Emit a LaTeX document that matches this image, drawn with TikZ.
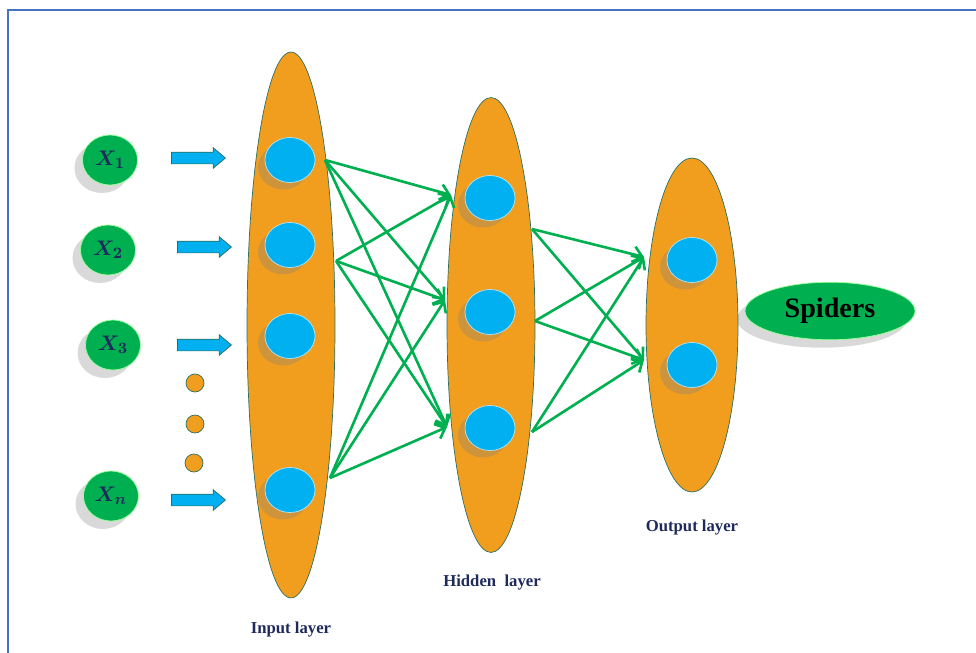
\documentclass[tikz,border=0pt]{standalone}
\usepackage{fontspec}
\setmainfont{Liberation Serif}
\usetikzlibrary{arrows.meta,positioning,shapes.geometric,shapes.arrows,shadows}
\definecolor{layerorange}{HTML}{F19E1F}
\definecolor{layeredge}{HTML}{2F6F5E}
\definecolor{neuronblue}{HTML}{00B0F0}
\definecolor{leafgreen}{HTML}{00B050}
\definecolor{navytext}{HTML}{1F2A5C}
\definecolor{frameblue}{HTML}{4472C4}
\tikzset{
  layerellipse/.style={
    ellipse, draw=layeredge, fill=layerorange, thin, inner sep=0pt
  },
  neuron/.style={
    ellipse, draw=cyan!30, fill=neuronblue, thin, inner sep=0pt,
    minimum width=1.0cm, minimum height=0.9cm,
    drop shadow={shadow xshift=-0.14cm, shadow yshift=-0.14cm, opacity=0.3}
  },
  inputnode/.style={
    ellipse, draw=green!40, fill=leafgreen, thin, inner sep=0pt,
    minimum width=1.1cm, minimum height=1.0cm,
    font=\fontsize{13}{15}\selectfont\boldmath, text=navytext,
    drop shadow={shadow xshift=-0.16cm, shadow yshift=-0.16cm, opacity=0.3}
  },
  feedarrow/.style={
    single arrow, draw=layeredge, fill=neuronblue, thin,
    inner xsep=0pt, inner ysep=0.11cm, minimum height=1.08cm,
    single arrow head extend=0.09cm, single arrow tip angle=80
  },
  gapdot/.style={
    circle, draw=layeredge, fill=layerorange, thin, inner sep=0pt,
    minimum size=0.36cm
  },
  synapse/.style={
    -{Straight Barb[length=5pt,width=9pt]}, line width=1.5pt, color=leafgreen
  },
  layerlabel/.style={
    font=\fontsize{9.5}{11}\selectfont\bfseries, text=navytext
  },
}

\begin{document}
\begin{tikzpicture}[x=0.02cm, y=-0.02cm]
  \useasboundingbox (0,0) rectangle (976,652);
  % frame
  \draw[frameblue, line width=1.1pt] (8,660) -- (8,10) -- (990,10);

  % layers
  \node[layerellipse, minimum width=1.76cm, minimum height=10.92cm] (inlayer) at (291,325) {};
  \node[layerellipse, minimum width=1.76cm, minimum height=9.1cm] (hidlayer) at (491,325) {};
  \node[layerellipse, minimum width=1.84cm, minimum height=6.68cm] (outlayer) at (692,325) {};

  % neurons
  \node[neuron] (in1) at (290,160) {};
  \node[neuron] (in2) at (290,245) {};
  \node[neuron] (in3) at (290,336) {};
  \node[neuron] (in4) at (290,490) {};
  \node[neuron] (hid1) at (490,198) {};
  \node[neuron] (hid2) at (490,312) {};
  \node[neuron] (hid3) at (490,428) {};
  \node[neuron] (out1) at (692,260) {};
  \node[neuron] (out2) at (692,365) {};

  % inputs
  \node[inputnode] (x1) at (110,160) {$X_1$};
  \node[inputnode] (x2) at (108,250) {$X_2$};
  \node[inputnode] (x3) at (113,345) {$X_3$};
  \node[inputnode] (xn) at (111,496) {$X_n$};
  \node[feedarrow] (fa1) at (195,158) {};
  \node[feedarrow] (fa2) at (201,247) {};
  \node[feedarrow] (fa3) at (201,345) {};
  \node[feedarrow] (fan) at (195,500) {};
  \node[gapdot] (d1) at (195,383) {};
  \node[gapdot] (d2) at (195,424) {};
  \node[gapdot] (d3) at (194,463) {};

  % connection ends on the layer edges
  \coordinate (in1s) at (325,160);
  \coordinate (in2s) at (336,261);
  \coordinate (in4s) at (330,478);
  \coordinate (hid1i) at (451,195);
  \coordinate (hid2i) at (445,300);
  \coordinate (hid3i) at (447,427);
  \coordinate (hid1o) at (532,229);
  \coordinate (hid2o) at (535,321);
  \coordinate (hid3o) at (532,432);
  \coordinate (out1i) at (644,257);
  \coordinate (out2i) at (644,360);

  % connections
  \foreach \i in {1,2,4}
    \foreach \j in {1,2,3}
      \draw[synapse] (in\i s) -- (hid\j i);
  \foreach \j in {1,2,3}
    \foreach \k in {1,2}
      \draw[synapse] (hid\j o) -- (out\k i);

  % output
  \node[ellipse, draw=green!40, fill=leafgreen, thin, minimum width=3.4cm,
        minimum height=1.15cm, inner sep=0pt, font=\fontsize{16}{18}\selectfont\bfseries,
        drop shadow={shadow xshift=-0.16cm, shadow yshift=-0.16cm, opacity=0.3}]
        (spiders) at (830,311) {Spiders};

  % labels
  \node[layerlabel] (inlabel) at (291,630) {Input layer};
  \node[layerlabel] (hidlabel) at (492,583) {Hidden\ \ layer};
  \node[layerlabel] (outlabel) at (692,528) {Output layer};
\end{tikzpicture}
\end{document}
